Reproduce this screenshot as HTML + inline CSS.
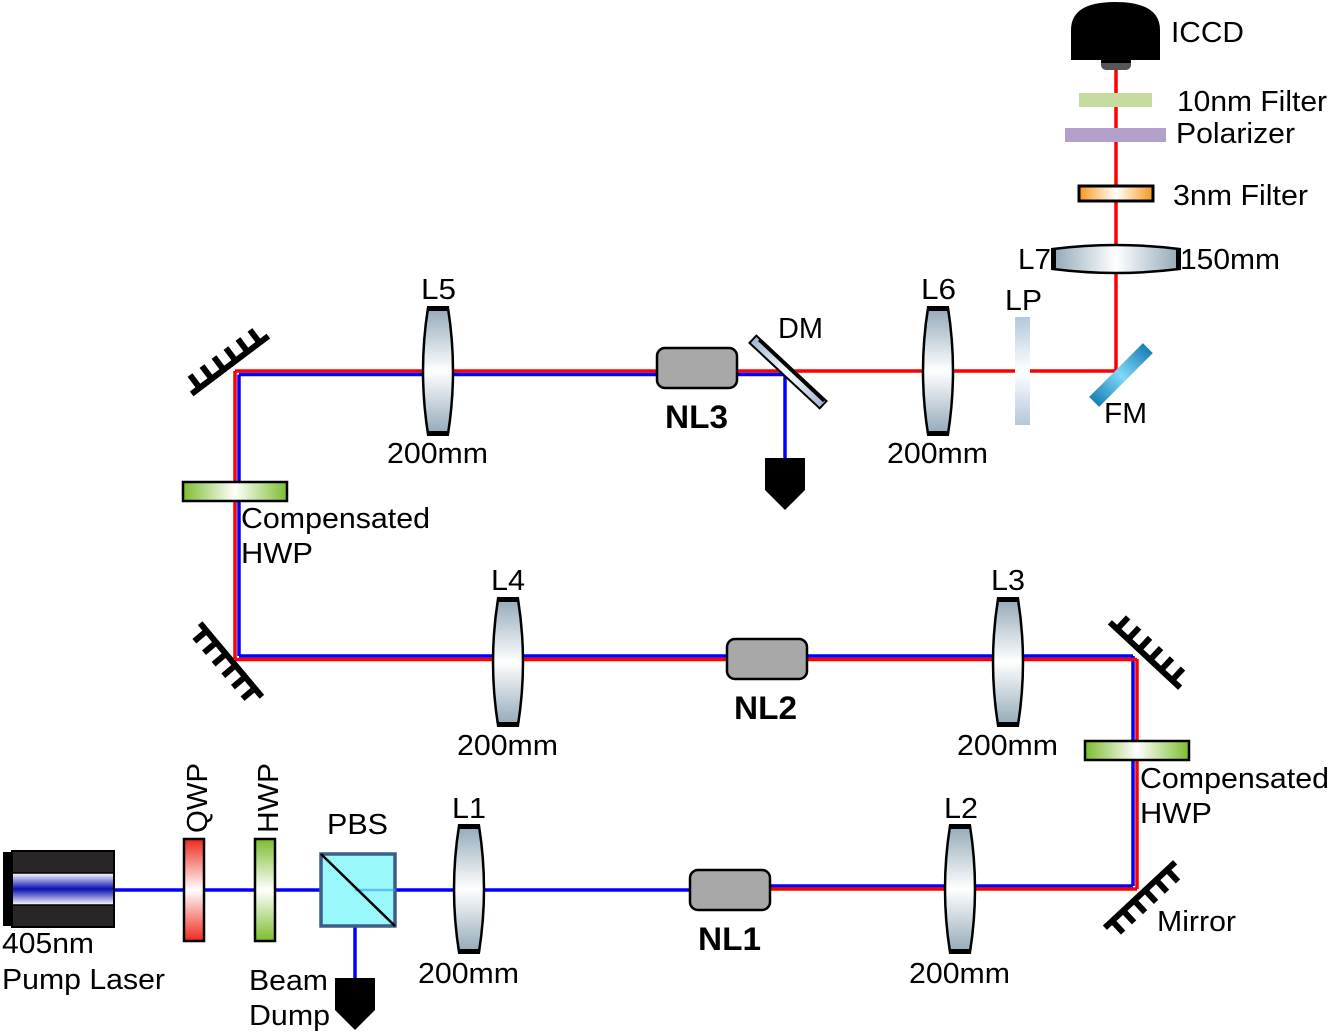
<!DOCTYPE html>
<html><head><meta charset="utf-8"><style>
html,body{margin:0;padding:0;background:#fff;}
svg{display:block;}
text{font-family:"Liberation Sans",Arial,sans-serif;font-size:29px;fill:#000;}
.b{font-weight:bold;font-size:32px;}
</style></head><body>
<svg width="1329" height="1032" viewBox="0 0 1329 1032" xmlns="http://www.w3.org/2000/svg">
<defs>
<linearGradient id="lg" x1="0" y1="0" x2="0" y2="1">
<stop offset="0" stop-color="#93a9b9"/><stop offset="0.5" stop-color="#ffffff"/><stop offset="1" stop-color="#93a9b9"/></linearGradient>
<linearGradient id="red" x1="0" y1="0" x2="0" y2="1">
<stop offset="0" stop-color="#ee2a1c"/><stop offset="0.5" stop-color="#ffffff"/><stop offset="1" stop-color="#ee2a1c"/></linearGradient>
<linearGradient id="grn" x1="0" y1="0" x2="0" y2="1">
<stop offset="0" stop-color="#7cbd2e"/><stop offset="0.5" stop-color="#ffffff"/><stop offset="1" stop-color="#7cbd2e"/></linearGradient>
<linearGradient id="grnh" x1="0" y1="0" x2="1" y2="0">
<stop offset="0" stop-color="#7cbd2e"/><stop offset="0.5" stop-color="#ffffff"/><stop offset="1" stop-color="#7cbd2e"/></linearGradient>
<linearGradient id="org" x1="0" y1="0" x2="1" y2="0">
<stop offset="0" stop-color="#f7981d"/><stop offset="0.5" stop-color="#ffffff"/><stop offset="1" stop-color="#f7981d"/></linearGradient>
<linearGradient id="lp" x1="0" y1="0" x2="0" y2="1">
<stop offset="0" stop-color="#b3c7dd"/><stop offset="0.5" stop-color="#ffffff"/><stop offset="1" stop-color="#b3c7dd"/></linearGradient>
<linearGradient id="las" x1="0" y1="0" x2="0" y2="1">
<stop offset="0" stop-color="#ffffff"/><stop offset="0.5" stop-color="#0a10b0"/><stop offset="1" stop-color="#ffffff"/></linearGradient>
<linearGradient id="fm" x1="0" y1="0" x2="1" y2="0">
<stop offset="0" stop-color="#1a7fb5"/><stop offset="0.5" stop-color="#7fd8f7"/><stop offset="1" stop-color="#1a7fb5"/></linearGradient>
<linearGradient id="dm" x1="0" y1="0" x2="1" y2="0">
<stop offset="0" stop-color="#9fb6d2"/><stop offset="0.5" stop-color="#ffffff"/><stop offset="1" stop-color="#9fb6d2"/></linearGradient>
<g id="lens"><path d="M-10,-63 L10,-63 Q20,0 10,63 L-10,63 Q-20,0 -10,-63 Z" fill="url(#lg)" stroke="#000" stroke-width="2.5"/><rect x="-11" y="-65" width="22" height="5"/><rect x="-11" y="60" width="22" height="5"/></g>
<g id="mir" stroke="#000" stroke-width="6" stroke-linecap="butt">
<line x1="-48" y1="0" x2="48" y2="0"/>
<line x1="-38" y1="0" x2="-38" y2="16"/><line x1="-23" y1="0" x2="-23" y2="16"/><line x1="-8" y1="0" x2="-8" y2="16"/><line x1="7" y1="0" x2="7" y2="16"/><line x1="22" y1="0" x2="22" y2="16"/><line x1="37" y1="0" x2="37" y2="16"/></g>
<g id="dump"><path d="M-20,0 L20,0 L20,32 L0,52 L-20,32 Z" fill="#000"/></g>
</defs>

<!-- beams -->
<g fill="none" stroke-width="3.5">
<line x1="115" y1="890" x2="690" y2="890" stroke="#0000ff"/>
<line x1="355" y1="890" x2="355" y2="980" stroke="#0000ff"/>
<line x1="770" y1="886" x2="1133" y2="886" stroke="#0000ff"/>
<line x1="770" y1="889" x2="1137" y2="889" stroke="#ff0000"/>
<line x1="1133" y1="886" x2="1133" y2="656" stroke="#0000ff"/>
<line x1="1137" y1="889" x2="1137" y2="659" stroke="#ff0000"/>
<line x1="1133" y1="656" x2="239" y2="656" stroke="#0000ff"/>
<line x1="1137" y1="659.5" x2="235" y2="659.5" stroke="#ff0000"/>
<line x1="235" y1="659" x2="235" y2="371" stroke="#ff0000"/>
<line x1="239" y1="656" x2="239" y2="374.5" stroke="#0000ff"/>
<line x1="235" y1="371" x2="785" y2="371" stroke="#ff0000"/>
<line x1="239" y1="374.5" x2="785" y2="374.5" stroke="#0000ff"/>
<line x1="785" y1="374.5" x2="785" y2="460" stroke="#0000ff"/>
<line x1="785" y1="371" x2="1116" y2="371" stroke="#ff0000"/>
<line x1="1116" y1="372" x2="1116" y2="70" stroke="#ff0000"/>
</g>

<!-- laser -->
<rect x="3" y="852" width="10" height="74" fill="#000"/>
<rect x="12" y="851" width="102" height="76" fill="#2a2628" stroke="#000" stroke-width="2"/>
<rect x="13" y="873" width="100" height="32" fill="url(#las)"/>
<line x1="13" y1="873" x2="113" y2="873" stroke="#000" stroke-width="1.5"/>
<line x1="13" y1="905" x2="113" y2="905" stroke="#000" stroke-width="1.5"/>
<text x="2" y="953" textLength="92" lengthAdjust="spacingAndGlyphs">405nm</text>
<text x="2" y="989" textLength="163" lengthAdjust="spacingAndGlyphs">Pump Laser</text>

<!-- QWP HWP -->
<rect x="184" y="839" width="20" height="102" fill="url(#red)" stroke="#000" stroke-width="2.5"/>
<rect x="255" y="839" width="20" height="102" fill="url(#grn)" stroke="#000" stroke-width="2.5"/>
<text transform="translate(207,833) rotate(-90)" textLength="70" lengthAdjust="spacingAndGlyphs">QWP</text>
<text transform="translate(278,833) rotate(-90)" textLength="70" lengthAdjust="spacingAndGlyphs">HWP</text>

<!-- PBS -->
<rect x="321" y="854" width="74" height="72" fill="#99f8fa" stroke="#3d5e86" stroke-width="3.5"/>
<line x1="355" y1="890" x2="395" y2="890" stroke="#3399ff" stroke-width="2.5" opacity=".6"/>
<line x1="321" y1="854" x2="395" y2="926" stroke="#000" stroke-width="2.5"/>
<text x="327" y="834" textLength="61" lengthAdjust="spacingAndGlyphs">PBS</text>
<use href="#dump" x="355" y="978"/>
<text x="249" y="990" textLength="79" lengthAdjust="spacingAndGlyphs">Beam</text>
<text x="249" y="1025" textLength="81" lengthAdjust="spacingAndGlyphs">Dump</text>

<!-- lenses -->
<use href="#lens" x="469" y="889"/>
<use href="#lens" x="960" y="889"/>
<use href="#lens" x="508" y="662"/>
<use href="#lens" x="1008" y="662"/>
<use href="#lens" x="438" y="371"/>
<use href="#lens" x="938" y="371"/>
<g transform="translate(1116,259) rotate(90)"><path d="M-10,-63 L10,-63 Q18,0 10,63 L-10,63 Q-18,0 -10,-63 Z" fill="url(#lg)" stroke="#000" stroke-width="2.5"/><rect x="-11" y="-65" width="22" height="5"/><rect x="-11" y="60" width="22" height="5"/></g>

<text x="452" y="818" textLength="34" lengthAdjust="spacingAndGlyphs">L1</text><text x="418" y="983" textLength="101" lengthAdjust="spacingAndGlyphs">200mm</text>
<text x="944" y="818" textLength="34" lengthAdjust="spacingAndGlyphs">L2</text><text x="909" y="983" textLength="101" lengthAdjust="spacingAndGlyphs">200mm</text>
<text x="491" y="590" textLength="34" lengthAdjust="spacingAndGlyphs">L4</text><text x="457" y="755" textLength="101" lengthAdjust="spacingAndGlyphs">200mm</text>
<text x="991" y="590" textLength="34" lengthAdjust="spacingAndGlyphs">L3</text><text x="957" y="755" textLength="101" lengthAdjust="spacingAndGlyphs">200mm</text>
<text x="421" y="299" textLength="35" lengthAdjust="spacingAndGlyphs">L5</text><text x="387" y="463" textLength="101" lengthAdjust="spacingAndGlyphs">200mm</text>
<text x="921" y="299" textLength="35" lengthAdjust="spacingAndGlyphs">L6</text><text x="887" y="463" textLength="101" lengthAdjust="spacingAndGlyphs">200mm</text>
<text x="1018" y="269" textLength="33" lengthAdjust="spacingAndGlyphs">L7</text><text x="1180" y="269" textLength="100" lengthAdjust="spacingAndGlyphs">150mm</text>

<!-- crystals -->
<rect x="690" y="870" width="80" height="40" rx="8" fill="#a8a8a8" stroke="#000" stroke-width="2.5"/>
<rect x="727" y="639" width="80" height="40" rx="8" fill="#a8a8a8" stroke="#000" stroke-width="2.5"/>
<rect x="657" y="348" width="80" height="40" rx="8" fill="#a8a8a8" stroke="#000" stroke-width="2.5"/>
<text class="b" x="698" y="950" textLength="63" lengthAdjust="spacingAndGlyphs">NL1</text>
<text class="b" x="734" y="719" textLength="63" lengthAdjust="spacingAndGlyphs">NL2</text>
<text class="b" x="665" y="428" textLength="63" lengthAdjust="spacingAndGlyphs">NL3</text>

<!-- compensated HWPs -->
<rect x="1085" y="741" width="104" height="19" fill="url(#grnh)" stroke="#000" stroke-width="2.5"/>
<text x="1140" y="788" textLength="189" lengthAdjust="spacingAndGlyphs">Compensated</text><text x="1140" y="823" textLength="72" lengthAdjust="spacingAndGlyphs">HWP</text>
<rect x="183" y="482" width="104" height="19" fill="url(#grnh)" stroke="#000" stroke-width="2.5"/>
<text x="241" y="528" textLength="189" lengthAdjust="spacingAndGlyphs">Compensated</text><text x="241" y="563" textLength="72" lengthAdjust="spacingAndGlyphs">HWP</text>

<!-- mirrors -->
<use href="#mir" transform="translate(1140,895) rotate(-43)"/>
<use href="#mir" transform="translate(1145,655) rotate(43) scale(1,-1)"/>
<use href="#mir" transform="translate(231,660) rotate(50)"/>
<use href="#mir" transform="translate(230,365) rotate(-37) scale(1,-1)"/>
<text x="1157" y="931" textLength="79" lengthAdjust="spacingAndGlyphs">Mirror</text>

<!-- DM -->
<rect x="-48" y="-5" width="96" height="10" fill="url(#dm)" stroke="#000" stroke-width="2" transform="translate(788,372) rotate(43)"/>
<line x1="757" y1="342" x2="822" y2="403" stroke="#000" stroke-width="3" transform="translate(2,-2)"/>
<text x="778" y="338" textLength="45" lengthAdjust="spacingAndGlyphs">DM</text>
<use href="#dump" x="785" y="458"/>

<!-- LP -->
<rect x="1015" y="317" width="15" height="108" fill="url(#lp)"/>
<text x="1005" y="310" textLength="37" lengthAdjust="spacingAndGlyphs">LP</text>

<!-- FM -->
<rect x="-38" y="-7" width="76" height="14" fill="url(#fm)" transform="translate(1121,375) rotate(-45)"/>
<text x="1104" y="423" textLength="43" lengthAdjust="spacingAndGlyphs">FM</text>

<!-- filters -->
<rect x="1079" y="186" width="74" height="15" fill="url(#org)" stroke="#000" stroke-width="3"/>
<text x="1173" y="205" textLength="135" lengthAdjust="spacingAndGlyphs">3nm Filter</text>
<rect x="1065" y="128" width="101" height="14" fill="#b29fca"/>
<text x="1176" y="143" textLength="119" lengthAdjust="spacingAndGlyphs">Polarizer</text>
<rect x="1079" y="93" width="73" height="14" fill="#c6dba0"/>
<text x="1177" y="111" textLength="150" lengthAdjust="spacingAndGlyphs">10nm Filter</text>

<!-- ICCD -->
<path d="M1071,60 L1071,30 Q1071,2 1115,2 Q1160,2 1160,30 L1160,60 Z" fill="#000"/>
<rect x="1101" y="58" width="30" height="12" rx="5" fill="#555"/>
<rect x="1101" y="58" width="30" height="5" fill="#000"/>
<text x="1171" y="42" textLength="73" lengthAdjust="spacingAndGlyphs">ICCD</text>
</svg>
</body></html>
